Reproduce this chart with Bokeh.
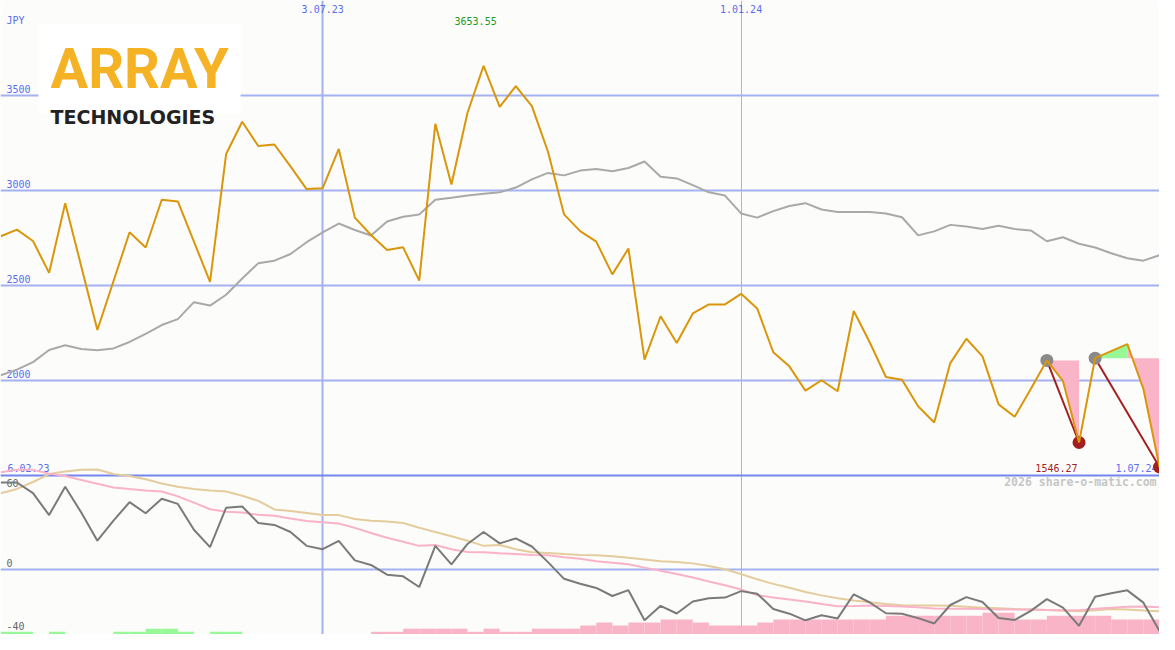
import numpy as np
import pandas as pd
from bokeh.plotting import figure
from bokeh.models import Range1d, ColumnDataSource
from bokeh.core.properties import value
from bokeh.embed import file_html
from bokeh.resources import INLINE

# ---------------- data ----------------
first_week = "2023-02-06"          # start of the weekly series (label at bottom left)
n_weeks = 74
currency = "JPY"
company_name = "ARRAY"
company_sub = "TECHNOLOGIES"
watermark = "2026 share-o-matic.com"

# weekly close (JPY), 13.02.23 ... 1.07.24
price = [
    2758, 2793, 2733, 2566, 2932, 2600, 2266, 2522, 2779, 2699,
    2950, 2941, 2730, 2519, 3190, 3360, 3232, 3240, 3125, 3006,
    3011, 3217, 2856, 2765, 2686, 2700, 2525, 3349, 3030, 3407,
    3653.55, 3438, 3547, 3442, 3202, 2873, 2785, 2730, 2558, 2694,
    2110, 2338, 2198, 2353, 2400, 2400, 2456, 2379, 2149, 2075,
    1947, 2002, 1944, 2366, 2200, 2019, 2004, 1865, 1780, 2092,
    2220, 2127, 1875, 1810, 1956, 2106, 1998, 1675, 2118, 2155,
    2192, 1956, 1546.27,
]
# moving average (grey)
price_ma = [
    2028, 2058, 2097, 2161, 2186, 2166, 2159, 2169, 2203, 2246,
    2292, 2323, 2412, 2394, 2451, 2536, 2617, 2630, 2665, 2727,
    2779, 2825, 2791, 2762, 2836, 2861, 2873, 2950, 2960, 2972,
    2981, 2989, 3014, 3057, 3091, 3078, 3103, 3112, 3100, 3117,
    3151, 3071, 3062, 3027, 2989, 2972, 2878, 2856, 2890, 2917,
    2932, 2899, 2886, 2886, 2886, 2878, 2858, 2763, 2784, 2818,
    2809, 2796, 2813, 2796, 2789, 2732, 2753, 2719, 2699, 2669,
    2643, 2630, 2659,
]
# lower panel oscillator (dark grey)
osc = [
    55.4, 55.4, 48.6, 34.7, 52.7, 36.3, 18.5, 31.2, 42.9, 35.9,
    45.1, 41.8, 25.4, 14.4, 39.4, 40.2, 29.7, 28.5, 24.0, 15.2,
    13.1, 18.3, 6.0, 3.1, -3.1, -4.1, -10.9, 15.2, 3.5, 16.4,
    24.0, 16.8, 19.9, 14.8, 4.9, -5.7, -8.8, -11.5, -16.6, -12.9,
    -32.0, -22.8, -27.7, -20.1, -18.0, -17.6, -13.5, -15.1, -24.8, -27.8,
    -32.0, -28.8, -30.8, -15.5, -20.7, -27.5, -27.8, -30.6, -34.0, -22.3,
    -17.3, -20.4, -30.5, -31.8, -26.0, -18.6, -24.0, -35.5, -17.0, -14.9,
    -13.0, -20.8, -38.8,
]
# lower panel fast average (pink)
osc_fast = [
    61.9, 63.4, 63.4, 61.0, 59.5, 57.0, 54.6, 52.2, 51.2, 50.3,
    49.7, 46.6, 42.6, 38.4, 36.8, 36.3, 34.9, 34.3, 32.5, 31.0,
    30.2, 29.4, 26.6, 23.4, 20.3, 17.8, 15.2, 15.8, 13.1, 11.3,
    11.1, 10.5, 10.0, 9.4, 9.2, 8.0, 7.0, 5.5, 4.5, 3.5,
    1.4, -0.6, -2.7, -4.9, -7.4, -9.8, -12.5, -16.0, -17.6, -18.8,
    -20.1, -21.6, -23.1, -22.9, -22.6, -22.9, -23.2, -23.8, -24.5, -24.6,
    -24.6, -24.8, -25.1, -25.2, -25.2, -25.4, -25.7, -25.6, -24.6, -24.0,
    -23.4, -23.3, -23.8,
]
# lower panel slow average (tan)
osc_slow = [
    48.6, 51.3, 55.7, 60.7, 62.3, 63.5, 63.6, 60.8, 59.5, 57.4,
    54.8, 52.7, 51.3, 50.3, 49.7, 47.0, 43.7, 38.3, 37.3, 36.0,
    34.7, 34.7, 32.2, 31.2, 30.6, 29.7, 26.7, 24.0, 21.3, 18.5,
    15.2, 15.8, 13.1, 11.1, 10.7, 10.0, 9.4, 9.2, 8.6, 7.6,
    6.6, 5.5, 4.9, 4.1, 2.5, 0.4, -2.7, -6.0, -8.9, -11.4,
    -14.0, -16.2, -18.0, -19.5, -20.5, -21.6, -22.4, -22.6, -22.6, -22.8,
    -23.4, -24.0, -24.4, -24.9, -25.1, -25.4, -25.9, -26.2, -25.6, -24.9,
    -25.2, -25.8, -26.3,
]
# histogram (green > 0, pink < 0)
hist = [
    1.7, 1.7, 0, 1.7, 0, 0, 0, 1.7, 1.7, 3.7,
    3.7, 1.7, 0, 1.7, 1.7, 0, 0, 0, 0, 0,
    0, 0, 0, -1.7, -1.7, -3.7, -3.7, -3.7, -3.7, -1.7,
    -3.7, -1.7, -1.7, -3.7, -3.7, -3.7, -5.7, -7.6, -5.7, -7.6,
    -7.6, -9.5, -9.5, -7.6, -5.7, -5.7, -5.7, -7.6, -9.5, -9.5,
    -9.5, -9.5, -9.5, -9.5, -9.5, -11.9, -11.9, -11.9, -11.9, -11.9,
    -11.9, -13.8, -13.8, -9.5, -9.5, -11.9, -11.9, -11.9, -11.9, -9.5,
    -9.5, -9.5, -9.5,
]
price_ticks = [2000, 2500, 3000, 3500]
price_tick_labels = ["2000", "2500", "3000", "3500"]
panel_split = 1500                       # price level of the panel border (= 60 of the oscillator)
osc_ticks = [0, -40]
osc_tick_labels = ["0", "-40"]
osc_top_tick = [60]
osc_top_label = ["60"]
date_ticks = ["2023-07-03", "2024-01-01"]
date_tick_labels = ["3.07.23", "1.01.24"]
date_tick_widths = [2, 1]
start_label = "6.02.23"
end_label = "1.07.24"
signal_from = ["2024-05-13", "2024-06-03"]
signal_to = ["2024-05-27", "2024-07-01"]

# ---------------- helpers ----------------
def ms(d):
    return pd.Timestamp(d).value / 1e6

def bl(offset, size):
    """screen offset of an alphabetic baseline, corrected for how the text box is placed"""
    return offset - 0.42 * size

week_dates = pd.date_range(first_week, periods=n_weeks, freq="7D")
dates = week_dates[1:]
x = np.array([ms(d) for d in dates])
WEEK = 7 * 24 * 3600 * 1000.0
price_a = np.array(price, dtype=float)

X0, X1 = x[0] - 0.02 * WEEK, x[-1]
P_LO, P_HI = 666.5, 3996.5
O_LO, O_HI = -41.0, 361.0

BG = "#fcfdfb"
GRID = "#a4b2f2"
SPLIT = "#7585ee"
BLUE = "#5b6cf0"
ORANGE = "#d9960a"
MA_GREY = "#a9a9a9"
OSC_GREY = "#7a7a7a"
PINK_LINE = "#f9b2c8"
TAN_LINE = "#e4cc9c"
PINK_FILL = "#fab4c8"
GREEN_FILL = "#98f898"
DARK_RED = "#a31f1f"
MONO = value("DejaVu Sans Mono")
FS = 10

p = figure(width=1159, height=634,
           x_range=Range1d(X0, X1), y_range=Range1d(P_LO, P_HI),
           x_axis_location=None, y_axis_location=None,
           output_backend="svg", toolbar_location=None, min_border=0,
           background_fill_color=BG, border_fill_color=BG, outline_line_color=None)
p.grid.visible = False
p.extra_y_ranges = {"osc": Range1d(O_LO, O_HI)}

# grid lines
p.hspan(y=price_ticks, line_color=GRID, line_width=2)
p.hspan(y=[0], y_range_name="osc", line_color=GRID, line_width=2)
for d, w in zip(date_ticks, date_tick_widths):
    p.vspan(x=[ms(d)], line_color=GRID, line_width=w)
p.hspan(y=[panel_split], line_color=SPLIT, line_width=2)

# histogram bars
h = np.array(hist)
nz = h != 0
bars = ColumnDataSource(dict(
    left=x[nz], right=x[nz] + WEEK, top=O_LO + np.abs(h[nz]),
    color=[GREEN_FILL if v > 0 else PINK_FILL for v in h[nz]]))
p.quad(left="left", right="right", bottom=O_LO, top="top", fill_color="color",
       line_color=None, y_range_name="osc", source=bars)

# texts
mono = dict(text_font=MONO, text_font_size=f"{FS}px", text_baseline="alphabetic")
p.text(x=[X0] * len(price_ticks), y=price_ticks, text=price_tick_labels, x_offset=6,
       y_offset=bl(-2, FS), text_color=BLUE, **mono)
p.text(x=[X0], y=[P_HI], text=[currency], x_offset=6, y_offset=bl(24, FS),
       text_color=BLUE, **mono)
p.text(x=[ms(d) for d in date_ticks], y=[P_HI] * len(date_ticks), text=date_tick_labels,
       y_offset=bl(13, FS), text_align="center", text_color=BLUE, **mono)
imax = int(np.argmax(price_a))
p.text(x=[x[imax]], y=[P_HI], text=[f"{price_a[imax]:.2f}"], x_offset=-8, y_offset=bl(25, FS),
       text_align="center", text_color="#229922", **mono)
imin = int(np.argmin(price_a))
p.text(x=[x[imin]], y=[panel_split], text=[f"{price_a[imin]:.2f}"], x_offset=-82,
       y_offset=bl(-4, FS), text_align="right", text_color=DARK_RED, **mono)
p.text(x=[x[-1]], y=[panel_split], text=[end_label], x_offset=-44, y_offset=bl(-4, FS),
       text_align="left", text_color=BLUE, **mono)
p.text(x=[X0], y=[panel_split], text=[start_label], x_offset=7, y_offset=bl(-4, FS),
       text_align="left", text_color=BLUE, **mono)
p.text(x=[X1], y=[panel_split], text=[watermark], x_offset=-3, y_offset=bl(11.5, 11.5),
       text_align="right", text_baseline="alphabetic", text_font_style="bold",
       text_font=MONO, text_font_size="11.5px", text_color="#c6c6c6")
p.text(x=[X0] * len(osc_ticks), y=osc_ticks, text=osc_tick_labels, x_offset=6,
       y_offset=bl(-3, FS), y_range_name="osc", text_color="#666666", **mono)
p.text(x=[X0], y=osc_top_tick, text=osc_top_label, x_offset=6, y_offset=bl(12, FS),
       y_range_name="osc", text_color="#666666", **mono)

# logo
p.text(x=[X0], y=[P_HI], text=[company_name], x_offset=38, y_offset=bl(92, 56),
       text_baseline="alphabetic", text_font=value("Roboto"),
       text_font_style="bold", text_font_size="56px", text_color="#f5b224",
       background_fill_color="white", padding=12)
p.text(x=[X0], y=[P_HI], text=[company_sub], x_offset=50, y_offset=bl(124, 19),
       text_baseline="alphabetic", text_font=value("DejaVu Sans"),
       text_font_style="bold", text_font_size="19px", text_color="#222222")

# lower panel lines
p.line(x, osc_slow, y_range_name="osc", line_color=TAN_LINE, line_width=2)
p.line(x, osc_fast, y_range_name="osc", line_color=PINK_LINE, line_width=2)
p.line(x, osc, y_range_name="osc", line_color=OSC_GREY, line_width=2)

# moving average
p.line(x, price_ma, line_color=MA_GREY, line_width=2)

# signal fills
fx, fy, fc = [], [], []
seg_x0, seg_y0, seg_x1, seg_y1 = [], [], [], []
for a_d, b_d in zip(signal_from, signal_to):
    i0 = dates.get_loc(pd.Timestamp(a_d))
    i1 = dates.get_loc(pd.Timestamp(b_d))
    level = price_a[i0]
    runs, start, sign = [], i0, None
    for k in range(i0, i1):
        s = price_a[k + 1] >= level
        if sign is None:
            sign = s
        elif s != sign:
            runs.append((start, k, sign))
            start, sign = k, s
    runs.append((start, i1, sign))
    for a, b, s in runs:
        fx.append([x[a]] + list(x[a:b + 1]) + [x[b]])
        fy.append([level] + list(price_a[a:b + 1]) + [level])
        fc.append(GREEN_FILL if s else PINK_FILL)
    seg_x0.append(x[i0]); seg_y0.append(price_a[i0])
    seg_x1.append(x[i1]); seg_y1.append(price_a[i1])
p.patches(fx, fy, fill_color=fc, line_color=None)
p.segment(seg_x0, seg_y0, seg_x1, seg_y1, line_color=DARK_RED, line_width=2)
p.scatter(seg_x0, seg_y0, size=13, fill_color="#8a8a8a", line_color=None)
p.scatter(seg_x1, seg_y1, size=13, fill_color=DARK_RED, line_color=None)

# price line
p.line(x, price, line_color=ORANGE, line_width=2)

open("out.html", "w").write(file_html(p, INLINE))
